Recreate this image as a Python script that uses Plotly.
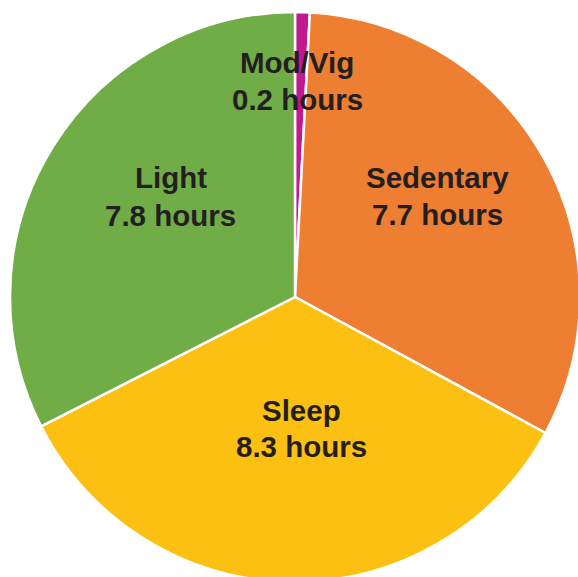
import plotly.graph_objects as go

categories = ["Mod/Vig", "Sedentary", "Sleep", "Light"]
hours = [0.2, 7.7, 8.3, 7.8]
colors = ["#C1198F", "#EE7E32", "#FCC013", "#71AD47"]

# label line centres in page pixels (x, first-line y, second-line y)
label_pos = [(297, 63, 100), (437, 178, 214), (301, 410, 446), (171, 178, 215)]

W, H = 600, 600
fig = go.Figure(go.Pie(
    labels=categories,
    values=hours,
    sort=False,
    direction="clockwise",
    rotation=0,
    marker=dict(colors=colors, line=dict(color="white", width=2.5)),
    textinfo="none",
    hoverinfo="label+value",
    domain=dict(x=[10 / W, 580 / W], y=[(H - 582) / H, (H - 12) / H]),
    showlegend=False,
))

font = dict(family="Liberation Sans", size=29.5, color="#231F20", weight="bold")
for cat, val, (px, py1, py2) in zip(categories, hours, label_pos):
    for txt, py in ((cat, py1), (f"{val} hours", py2)):
        fig.add_annotation(
            x=px / W, y=1 - py / H, xref="paper", yref="paper",
            text=txt, showarrow=False, font=font,
            xanchor="center", yanchor="middle", align="center",
        )

fig.update_layout(
    width=W, height=H,
    margin=dict(l=0, r=0, t=0, b=0),
    paper_bgcolor="white", plot_bgcolor="white",
)

fig.write_html(
    "out.html",
    config={"displayModeBar": False},
    post_script="document.body.style.margin='0';document.body.style.overflow='hidden';",
)
